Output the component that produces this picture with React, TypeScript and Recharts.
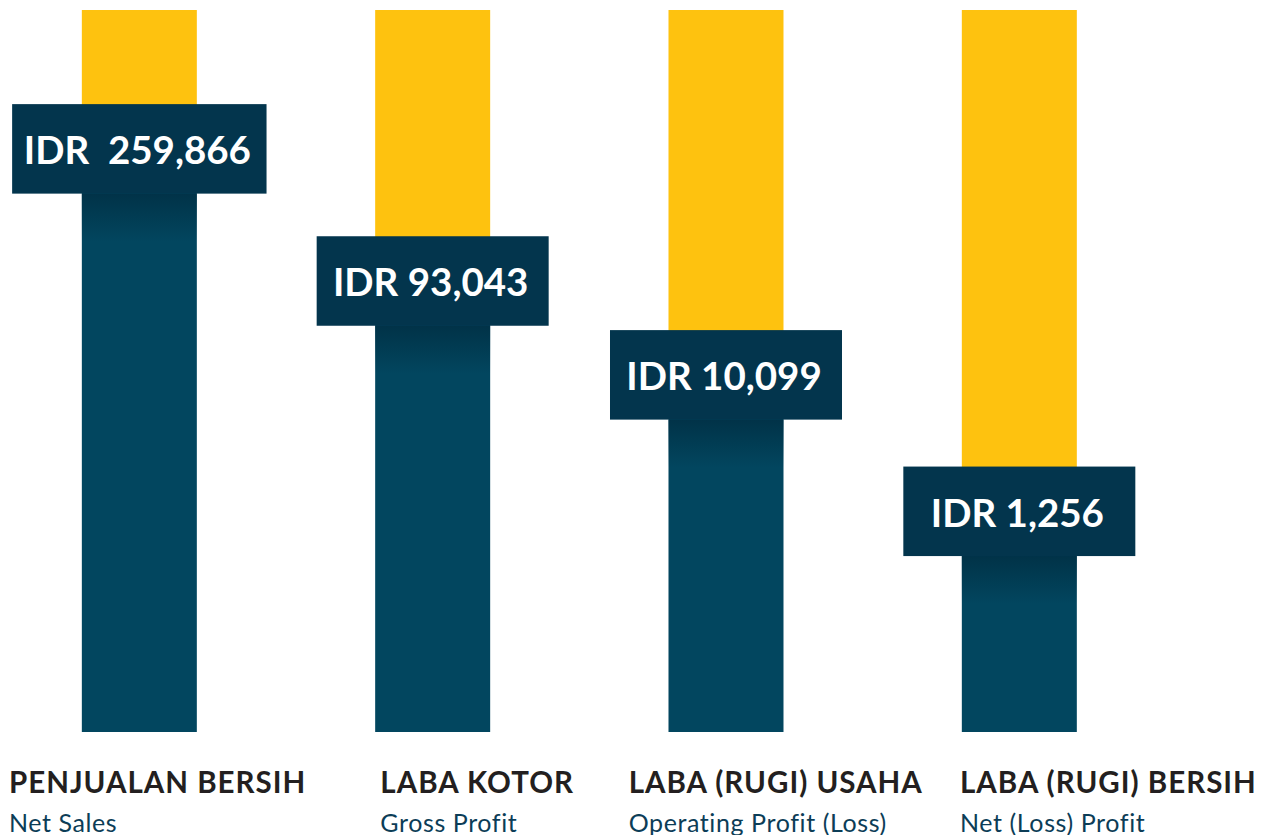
import React from "react";
import { BarChart, Bar, XAxis, YAxis, LabelList } from "recharts";

const categories = ["PENJUALAN BERSIH", "LABA KOTOR", "LABA (RUGI) USAHA", "LABA (RUGI) BERSIH"];
const subtitles = ["Net Sales", "Gross Profit", "Operating Profit (Loss)", "Net (Loss) Profit"];
const valueLabels = ["IDR  259,866", "IDR 93,043", "IDR 10,099", "IDR 1,256"];
// visual level of the dark part of each bar (percent of full bar height)
const barLevels = [80.8, 62.5, 49.5, 30.6];
const FULL = 100;

// layout-only constants
const titleOffsets = [-130.5, -52.5, -97.5, -59.5];
const YELLOW = "#FEC20F";
const DARK = "#02465F";
const BOX = "#03354D";
const W = 1268;
const H = 835;

const data = categories.map((c, i) => ({
  pos: i,
  name: c,
  level: barLevels[i],
  rest: FULL - barLevels[i],
  label: valueLabels[i],
}));

const BoxLabel = (props: any) => {
  const { x, y, width, height, index } = props;
  const label = valueLabels[index];
  const cx = x + width / 2;
  const top = y + height; // boundary between yellow and dark
  const boxW = Math.max(232, label.length * 21.2);
  const boxH = 89.5;
  const boxTop = top - 44.5;
  return (
    <g>
      <rect x={x} y={boxTop + boxH} width={width} height={48} fill="url(#shadowGrad)" />
      <rect x={cx - boxW / 2} y={boxTop} width={boxW} height={boxH} fill={BOX} />
      <text
        x={cx - 2}
        y={top + 15.5}
        textAnchor="middle"
        fill="#ffffff"
        fontFamily="Lato, 'Noto Sans', sans-serif"
        fontWeight={700}
        fontSize={38.5}
        style={{ whiteSpace: "pre" }}
      >
        {label}
      </text>
    </g>
  );
};

const CatTick = (props: any) => {
  const { x, y, payload } = props;
  const i = payload.value as number;
  const lx = x + titleOffsets[i];
  return (
    <g>
      <text
        x={lx}
        y={y + 61}
        textAnchor="start"
        fill="#231F20"
        fontFamily="Lato, 'Noto Sans', sans-serif"
        fontWeight={700}
        fontSize={29.5}
        letterSpacing={1}
      >
        {categories[i]}
      </text>
      <text
        x={lx}
        y={y + 100}
        textAnchor="start"
        fill="#0C3D57"
        fontFamily="Lato, 'Noto Sans', sans-serif"
        fontWeight={400}
        fontSize={25}
        letterSpacing={0.6}
      >
        {subtitles[i]}
      </text>
    </g>
  );
};

export default function App() {
  return (
    <div style={{ position: "absolute", left: 0, top: 0, width: W, height: H, background: "#ffffff" }}>
      <BarChart
        width={W}
        height={H}
        data={data}
        margin={{ top: 10, right: 0, bottom: 0, left: 0 }}
        barSize={115}
      >
        <defs>
          <linearGradient id="shadowGrad" x1="0" y1="0" x2="0" y2="1">
            <stop offset="0%" stopColor="#002C40" stopOpacity={0.75} />
            <stop offset="100%" stopColor="#002C40" stopOpacity={0} />
          </linearGradient>
        </defs>
        <XAxis
          type="number"
          dataKey="pos"
          domain={[-0.47557, 3.8472]}
          ticks={[0, 1, 2, 3]}
          allowDataOverflow
          axisLine={false}
          tickLine={false}
          tickSize={0}
          tickMargin={0}
          interval={0}
          tick={<CatTick />}
          height={103}
        />
        <YAxis hide domain={[0, FULL]} />
        <Bar dataKey="level" stackId="a" fill={DARK} isAnimationActive={false} />
        <Bar dataKey="rest" stackId="a" fill={YELLOW} isAnimationActive={false}>
          <LabelList dataKey="label" content={<BoxLabel />} />
        </Bar>
      </BarChart>
    </div>
  );
}
